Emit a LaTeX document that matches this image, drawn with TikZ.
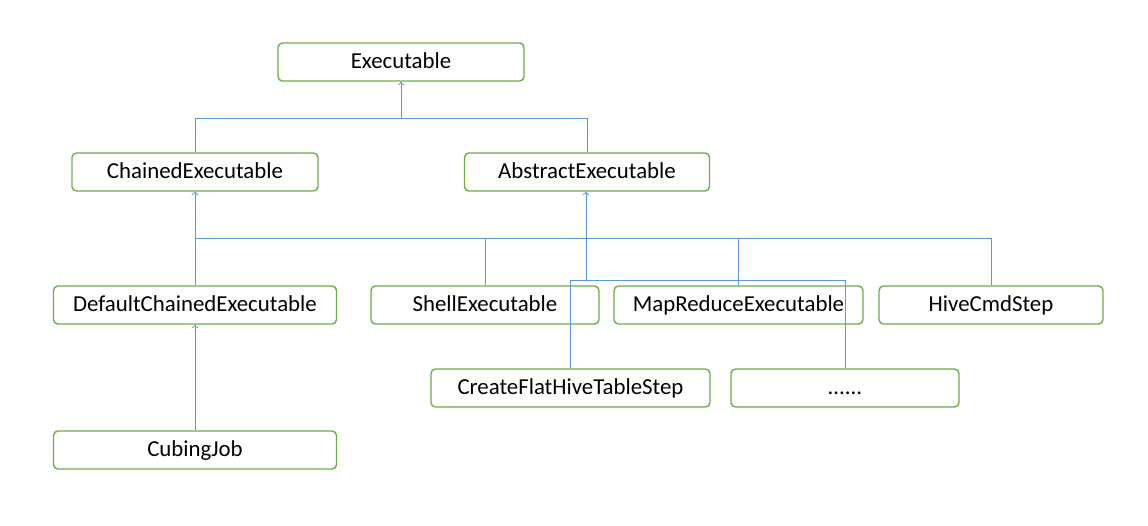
\documentclass[tikz,border=0pt]{standalone}
\usepackage{fontspec}
\setmainfont{Carlito}
\usepackage{tikz}
\usetikzlibrary{calc,arrows,positioning}
\definecolor{boxgreen}{RGB}{112,173,71}
\definecolor{linkblue}{RGB}{91,155,213}

\begin{document}
\begin{tikzpicture}[x=0.02cm,y=-0.02cm]

\tikzset{classnode/.style={font=\fontsize{13}{15}\selectfont,draw=boxgreen,line width=0.8pt,rounded corners=2.5pt,fill=white,minimum height=0.76cm,inner sep=0pt,text height=0.8em,text depth=0.1em},
link/.style={draw=linkblue,line width=0.55pt},
uplink/.style={link,->,>=to}}

\useasboundingbox (0,0) rectangle (1148,525);

% Class boxes
\node[classnode,minimum width=4.92cm] (exec) at (401,62) {Executable};
\node[classnode,minimum width=4.92cm] (chained) at (195,172) {ChainedExecutable};
\node[classnode,minimum width=4.9cm] (abstract) at (587,172) {AbstractExecutable};
\node[classnode,minimum width=5.66cm] (default) at (195,305) {DefaultChainedExecutable};
\node[classnode,minimum width=4.56cm] (shell) at (485,305) {ShellExecutable};
\node[classnode,minimum width=4.98cm] (mapred) at (738.5,305) {MapReduceExecutable};
\node[classnode,minimum width=4.48cm] (hive) at (991,305) {HiveCmdStep};
\node[classnode,minimum width=5.58cm] (flat) at (570.5,388) {CreateFlatHiveTableStep};
\node[classnode,minimum width=4.56cm] (more) at (845,388) {......};
\node[classnode,minimum width=5.66cm] (cubing) at (195,450) {CubingJob};

% Junctions
\coordinate (busA) at (401,118);
\coordinate (busB) at (586,238);
\coordinate (busC) at (586,280);

% Edges to Executable
\foreach \x in {chained,abstract} \draw[link] (\x.north) -- (\x.north |- busA);
\draw[link] (chained.north |- busA) -- (abstract.north |- busA);
\draw[uplink] (busA) -- (exec.south);

% Edges to ChainedExecutable
\draw[uplink] (default.north) -- (chained.south);
\draw[uplink] (cubing.north) -- (default.south);

% Edges to AbstractExecutable
\foreach \x in {shell,mapred,hive} \draw[link] (\x.north) -- (\x.north |- busB);
\draw[link] (default.north |- busB) -- (hive.north |- busB);
\foreach \x in {flat,more} \draw[link] (\x.north) -- (\x.north |- busC);
\draw[link] (flat.north |- busC) -- (more.north |- busC);
\draw[uplink] (busC) -- (abstract.south -| busC);

\end{tikzpicture}
\end{document}
